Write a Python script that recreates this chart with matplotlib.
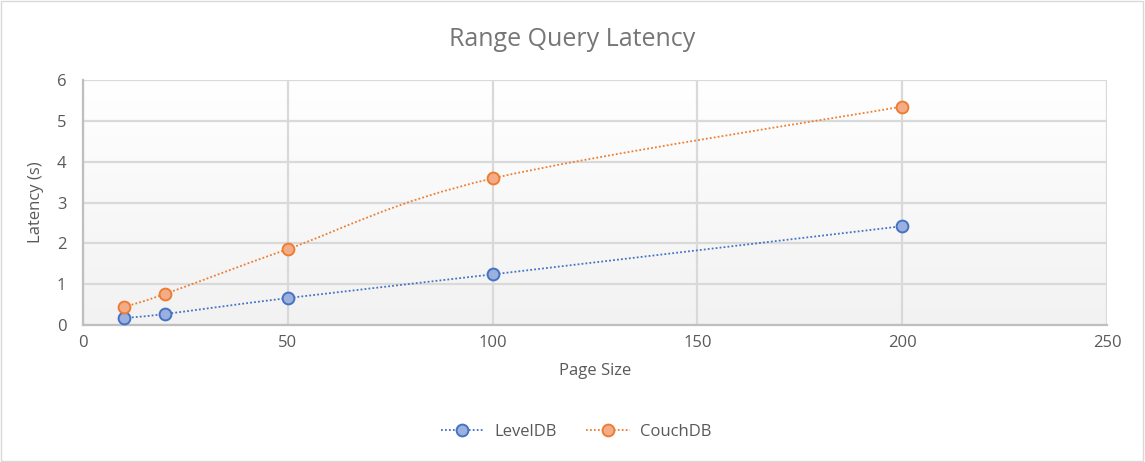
import matplotlib.pyplot as plt
import numpy as np
from matplotlib.path import Path
from matplotlib.patches import PathPatch, Rectangle
from matplotlib.lines import Line2D

# Datos
page_size = [10, 20, 50, 100, 200]
leveldb = [0.17, 0.27, 0.66, 1.24, 2.42]
couchdb = [0.44, 0.76, 1.86, 3.59, 5.35]

x_ticks = [0, 50, 100, 150, 200, 250]
y_ticks = [0, 1, 2, 3, 4, 5, 6]

blue_edge, blue_face = "#4472c4", "#9bb0dd"
orange_edge, orange_face = "#ed7d31", "#f4ab88"
text_grey = "#595959"
title_grey = "#767676"

plt.rcParams['font.family'] = ['Open Sans', 'DejaVu Sans']


def smooth_path(xs, ys):
    # curva tipo Excel (Catmull-Rom -> Bezier)
    pts = np.column_stack([xs, ys]).astype(float)
    n = len(pts)
    verts = [pts[0]]
    codes = [Path.MOVETO]
    for i in range(n - 1):
        p0 = pts[i - 1] if i > 0 else pts[i]
        p1 = pts[i]
        p2 = pts[i + 1]
        p3 = pts[i + 2] if i + 2 < n else pts[i + 1]
        c1 = p1 + (p2 - p0) / 6.0
        c2 = p2 - (p3 - p1) / 6.0
        verts += [c1, c2, p2]
        codes += [Path.CURVE4] * 3
    return Path(verts, codes)


fig = plt.figure(figsize=(11.45, 4.62), dpi=100)
fig.patches.append(Rectangle((0.001, 0.002), 0.997, 0.995, transform=fig.transFigure,
                             fill=False, edgecolor="#d9d9d9", lw=1.0))
ax = fig.add_axes([0.0725, 0.2965, 0.8943, 0.5303])

# fondo degradado
grad = np.linspace(1.0, 0.0, 256).reshape(-1, 1)
ax.imshow(grad, extent=[0, 1, 0, 1], transform=ax.transAxes, aspect='auto',
          cmap=plt.matplotlib.colors.LinearSegmentedColormap.from_list("g", ["#f2f2f2", "#ffffff"]),
          vmin=0, vmax=1, zorder=0)

for series, edge, face in [(leveldb, blue_edge, blue_face), (couchdb, orange_edge, orange_face)]:
    ax.add_patch(PathPatch(smooth_path(page_size, series), fill=False, edgecolor=edge,
                           lw=1.3, linestyle=(0, (1, 1.2)), zorder=3))
    ax.plot(page_size, series, linestyle="none", marker="o", markersize=8.5,
            markerfacecolor=face, markeredgecolor=edge, markeredgewidth=1.4, zorder=4)

ax.set_xlim(0, 250)
ax.set_ylim(0, 6)
ax.set_xticks(x_ticks)
ax.set_yticks(y_ticks)
ax.grid(True, color="#d9d9d9", lw=1.6, zorder=1)
ax.set_axisbelow(True)
for s in ["top", "right"]:
    ax.spines[s].set_visible(False)
for s in ["left", "bottom"]:
    ax.spines[s].set_color("#bfbfbf")
    ax.spines[s].set_linewidth(1.6)
ax.tick_params(length=0, labelsize=12, colors=text_grey, pad=7)
ax.tick_params(axis='y', pad=12)

ax.set_xlabel("Page Size", fontsize=12, color=text_grey, labelpad=9)
ax.set_ylabel("Latency (s)", fontsize=12, color=text_grey, labelpad=9)
fig.text(0.5, 0.915, "Range Query Latency", ha="center", va="center",
         fontsize=18, color=title_grey)

handles = [
    Line2D([0], [0], color=blue_edge, lw=1.3, linestyle=(0, (1, 1.2)), marker="o", markersize=8.5,
           markerfacecolor=blue_face, markeredgecolor=blue_edge, markeredgewidth=1.4),
    Line2D([0], [0], color=orange_edge, lw=1.3, linestyle=(0, (1, 1.2)), marker="o", markersize=8.5,
           markerfacecolor=orange_face, markeredgecolor=orange_edge, markeredgewidth=1.4),
]
fig.legend(handles, ["LevelDB", "CouchDB"], loc="center", bbox_to_anchor=(0.503, 0.065),
           ncol=2, frameon=False, fontsize=12, labelcolor=text_grey,
           handlelength=2.6, handletextpad=0.6, columnspacing=1.8)

plt.savefig("out.png", dpi=100)
